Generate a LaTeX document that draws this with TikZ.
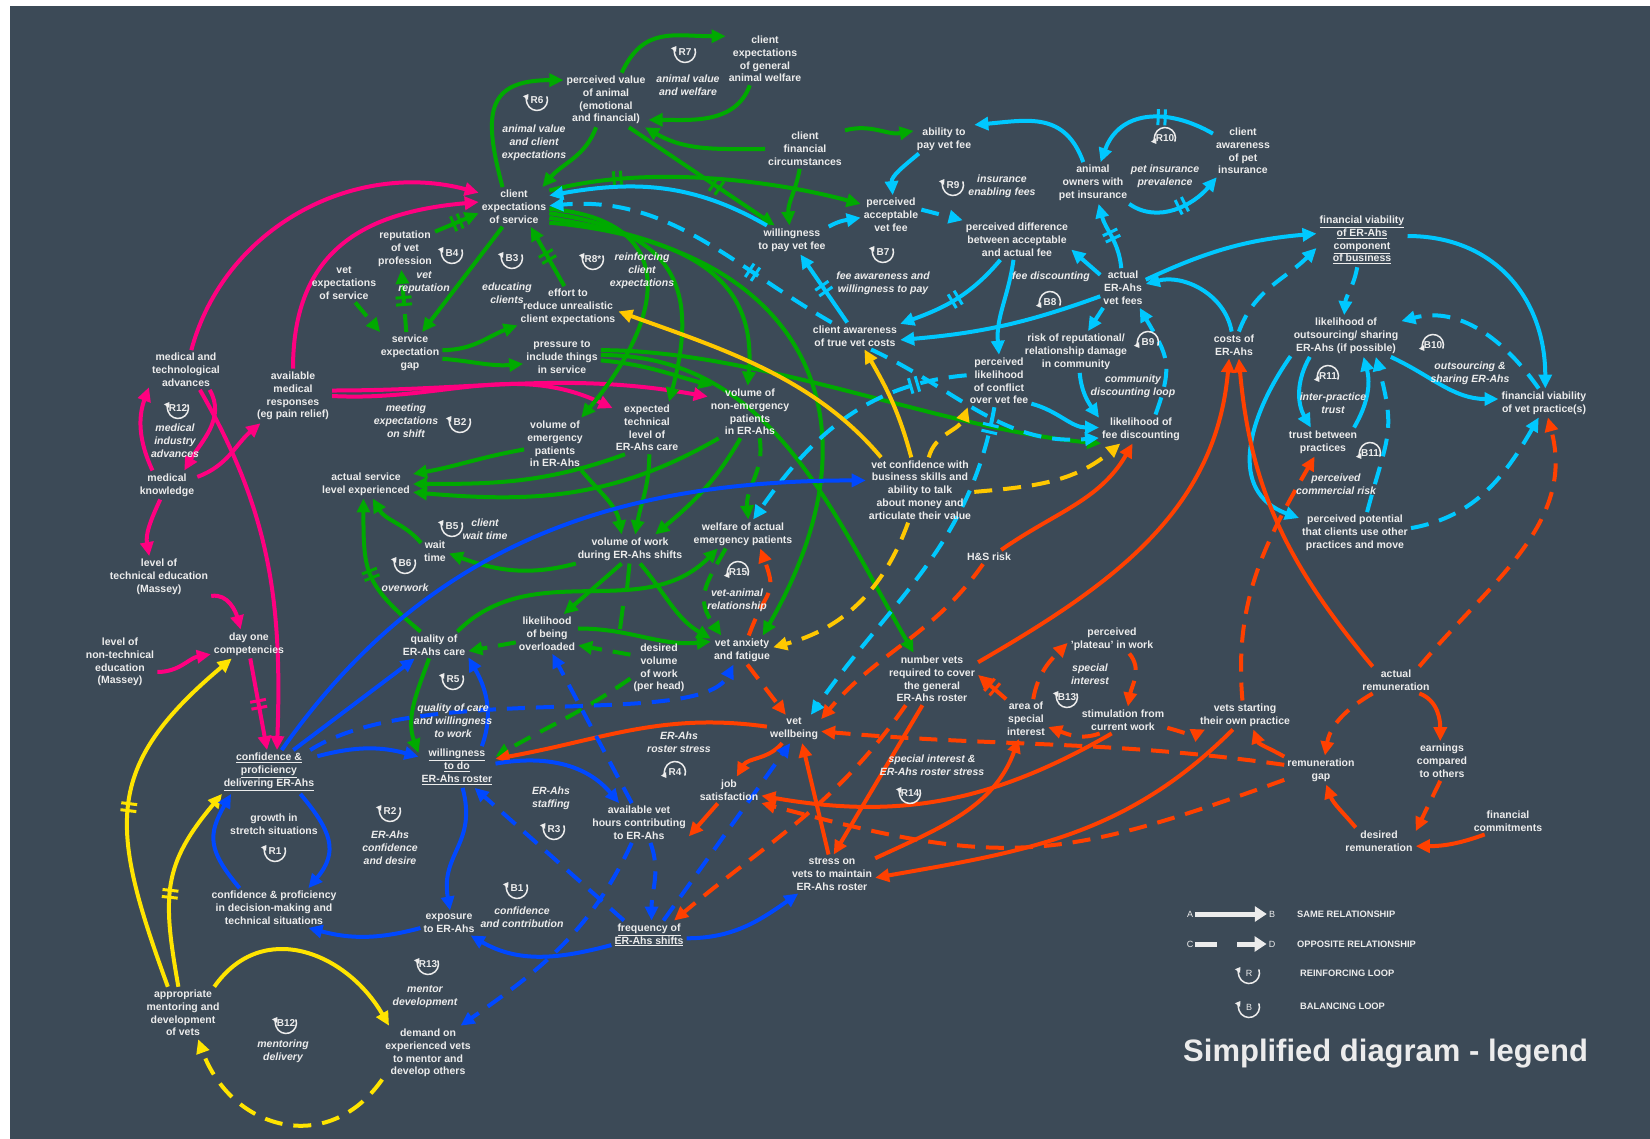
\documentclass[tikz,border=0pt]{standalone}
\usepackage{fontspec}
\setmainfont{Liberation Sans}
\usepackage{tikz}
\usetikzlibrary{arrows.meta,decorations.markings}

\definecolor{bgdark}{RGB}{60,74,87}
\definecolor{ctext}{RGB}{236,236,236}
\definecolor{cgreen}{RGB}{0,170,0}
\definecolor{ccyan}{RGB}{0,200,255}
\definecolor{cmag}{RGB}{255,0,128}
\definecolor{cblue}{RGB}{0,72,255}
\definecolor{cyel}{RGB}{255,228,0}
\definecolor{cgold}{RGB}{255,200,0}
\definecolor{corange}{RGB}{255,64,0}

\newcommand{\varfont}{\bfseries\fontsize{10.5}{12.8}\selectfont}
\newcommand{\lblfont}{\bfseries\itshape\fontsize{10.5}{12.8}\selectfont}
\newcommand{\loopfont}{\bfseries\fontsize{10}{12}\selectfont}
\newcommand{\legfont}{\fontsize{9}{11}\selectfont}
\newcommand{\legbfont}{\bfseries\fontsize{9.3}{11}\selectfont}
\newcommand{\ttlfont}{\bfseries\fontsize{31}{36}\selectfont}

\pgfdeclarelayer{bg}
\pgfdeclarelayer{edges}
\pgfsetlayers{bg,edges,main}

\tikzstyle{var} = [text=ctext, font=\varfont, align=center, inner sep=3pt]
\tikzstyle{lbl} = [text=ctext, font=\lblfont, align=center, inner sep=1pt]
\tikzstyle{loopsym} = [text=ctext, font=\loopfont, inner sep=1pt]
\tikzstyle{legloop} = [text=ctext, font=\legfont, inner sep=1pt]
\tikzstyle{legtxt} = [text=ctext, font=\legfont, inner sep=2pt]
\tikzstyle{legbold} = [text=ctext, font=\legbfont, inner sep=0pt]
\tikzstyle{ttl} = [text=ctext, font=\ttlfont, inner sep=0pt]
\tikzstyle{lnk} = [line width=4pt, ->]
\tikzstyle{opp} = [dash pattern=on 18pt off 11pt]
\tikzstyle{grnln} = [lnk, color=cgreen]
\tikzstyle{cynln} = [lnk, color=ccyan]
\tikzstyle{magln} = [lnk, color=cmag]
\tikzstyle{bluln} = [lnk, color=cblue]
\tikzstyle{yelln} = [lnk, color=cyel]
\tikzstyle{goldln} = [lnk, color=cgold]
\tikzstyle{orgln} = [lnk, color=corange]
\tikzset{
  looparc/.style={draw=ctext, line width=1.5pt, -{Triangle[length=5pt,width=6pt]}},
  legarrow/.style={draw=ctext, line width=5pt, -{Triangle[length=12pt,width=15pt]}},
  delaymark/.style={postaction={decorate,decoration={markings,
    mark=at position #1 with {\draw[solid,line width=3pt,-] (-3.5pt,-8pt) -- (-3.5pt,8pt) (3.5pt,-8pt) -- (3.5pt,8pt);}}}}
}

% loop symbols: arrow head top left / bottom left
\newcommand{\cldup}[4][loopsym]{%
  \node[#1] (#2) at (#3) {#4};
  \draw[looparc] ([shift={(20:10.5pt)}]#2.center) arc[start angle=20, end angle=-215, radius=10.5pt];}
\newcommand{\clddown}[4][loopsym]{%
  \node[#1] (#2) at (#3) {#4};
  \draw[looparc] ([shift={(-20:10.5pt)}]#2.center) arc[start angle=-20, end angle=215, radius=10.5pt];}

\begin{document}
\begin{tikzpicture}[x=1pt,y=1pt,>={Triangle[length=14pt,width=13pt]}]

\useasboundingbox (0,0) rectangle (1650,-1139);
\begin{pgfonlayer}{bg}
  \fill[white] (0,0) rectangle (1650,-1139);
  \fill[bgdark] (10,-6) rectangle (1650,-1139);
\end{pgfonlayer}

% variables
\node[var] (medadv) at (186,-370) {medical and\\technological\\advances};
\node[var] (avail) at (293,-396) {available\\medical\\responses\\(eg pain relief)};
\node[var] (medknow) at (167,-485) {medical\\knowledge};
\node[var] (techedu) at (159,-577) {level of\\technical education\\(Massey)};
\node[var] (nontech) at (120,-662) {level of\\non-technical\\education\\(Massey)};
\node[var] (dayone) at (249,-644) {day one\\competencies};
\node[var] (confdel) at (269,-772) {\underline{confidence \&}\\\underline{proficiency}\\\underline{delivering ER-Ahs}};
\node[var] (growth) at (274,-824) {growth in\\stretch situations};
\node[var] (confdec) at (274,-908) {confidence \& proficiency\\in decision-making and\\technical situations};
\node[var] (mentoring) at (183,-1013) {appropriate\\mentoring and\\development\\of vets};
\node[var] (demand) at (428,-1053) {demand on\\experienced vets\\to mentor and\\develop others};
\node[var] (exposure) at (449,-923) {exposure\\to ER-Ahs};
\node[var] (willing) at (457,-767) {\underline{willingness}\\\underline{to do}\\\underline{ER-Ahs roster}};
\node[var] (freq) at (649,-935) {\underline{frequency of}\\\underline{ER-Ahs shifts}};
\node[var] (hours) at (639,-823) {available vet\\hours contributing\\to ER-Ahs};
\node[var] (jobsat) at (729,-790) {job\\satisfaction};
\node[var] (wellbeing) at (794,-729) {vet\\wellbeing};
\node[var] (stress) at (832,-874) {stress on\\vets to maintain\\ER-Ahs roster};
\node[var] (quality) at (434,-645) {quality of\\ER-Ahs care};
\node[var] (overload) at (547,-634) {likelihood\\of being\\overloaded};
\node[var] (desired) at (659,-668) {desired\\volume\\of work\\(per head)};
\node[var] (anxiety) at (742,-650) {vet anxiety\\and fatigue};
\node[var] (welfare) at (743,-534) {welfare of actual\\emergency patients};
\node[var] (work) at (630,-549) {volume of work\\during ER-Ahs shifts};
\node[var] (waittime) at (435,-551) {wait\\time};
\node[var] (service) at (366,-484) {actual service\\level experienced};
\node[var] (volemerg) at (555,-444) {volume of\\emergency\\patients\\in ER-Ahs};
\node[var] (exptech) at (647,-428) {expected\\technical\\level of\\ER-Ahs care};
\node[var] (volnon) at (750,-412) {volume of\\non-emergency\\patients\\in ER-Ahs};
\node[var] (vetexp) at (344,-283) {vet\\expectations\\of service};
\node[var] (reput) at (405,-249) {reputation\\of vet\\profession};
\node[var] (gap) at (410,-353) {service\\expectation\\gap};
\node[var] (clientexp) at (514,-207) {client\\expectations\\of service};
\node[var] (value) at (606,-100) {perceived value\\of animal\\(emotional\\and financial)};
\node[var] (welfaregen) at (765,-59) {client\\expectations\\of general\\animal welfare};
\node[var] (fincirc) at (805,-149) {client\\financial\\circumstances};
\node[var] (wtp) at (792,-240) {willingness\\to pay vet fee};
\node[var] (effort) at (568,-307) {effort to\\reduce unrealistic\\client expectations};
\node[var] (pressure) at (562,-357) {pressure to\\include things\\in service};
\node[var] (ability) at (944,-139) {ability to\\pay vet fee};
\node[var] (accept) at (891,-215) {perceived\\acceptable\\vet fee};
\node[var] (owners) at (1093,-183) {animal\\owners with\\pet insurance};
\node[var] (awarepet) at (1243,-151) {client\\awareness\\of pet\\insurance};
\node[var] (diff) at (1017,-240) {perceived difference\\between acceptable\\and actual fee};
\node[var] (fees) at (1123,-288) {actual\\ER-Ahs\\vet fees};
\node[var] (awarecost) at (855,-336) {client awareness\\of true vet costs};
\node[var] (risk) at (1076,-352) {risk of reputational/\\relationship damage\\in community};
\node[var] (conflict) at (999,-381) {perceived\\likelihood\\of conflict\\over vet fee};
\node[var] (discount) at (1141,-429) {likelihood of\\fee discounting};
\node[var] (costs) at (1234,-345) {costs of\\ER-Ahs};
\node[var] (vetconf) at (920,-490) {vet confidence with\\business skills and\\ability to talk\\about money and\\articulate their value};
\node[var] (hsrisk) at (989,-557) {H\&S risk};
\node[var] (numvets) at (932,-679) {number vets\\required to cover\\the general\\ER-Ahs roster};
\node[var] (plateau) at (1112,-639) {perceived\\'plateau' in work};
\node[var] (area) at (1026,-719) {area of\\special\\interest};
\node[var] (stim) at (1123,-720) {stimulation from\\current work};
\node[var] (finviab) at (1362,-240) {\underline{financial viability}\\\underline{of ER-Ahs}\\\underline{component}\\\underline{of business}};
\node[var] (outsrc) at (1346,-336) {likelihood of\\outsourcing/ sharing\\ER-Ahs (if possible)};
\node[var] (practice) at (1544,-403) {financial viability\\of vet practice(s)};
\node[var] (trust) at (1323,-442) {trust between\\practices};
\node[var] (potential) at (1355,-533) {perceived potential\\that clients use other\\practices and move};
\node[var] (actrem) at (1396,-680) {actual\\remuneration};
\node[var] (ownprac) at (1245,-715) {vets starting\\their own practice};
\node[var] (remgap) at (1321,-770) {remuneration\\gap};
\node[var] (earnings) at (1442,-761) {earnings\\compared\\to others};
\node[var] (desrem) at (1379,-841) {desired\\remuneration};
\node[var] (fincom) at (1508,-821) {financial\\commitments};

% loops
\cldup{R6}{537,-100}{R6}
\cldup{R7}{685,-52}{R7}
\cldup{B4}{452,-253}{B4}
\cldup{B3}{512,-258}{B3}
\cldup{R8s}{593,-259}{R8*}
\cldup{R9}{953,-185}{R9}
\cldup{B7}{883,-252}{B7}
\cldup{B2}{460,-422}{B2}
\cldup{B5}{452,-526}{B5}
\cldup{B6}{405,-563}{B6}
\cldup{R12}{178,-408}{R12}
\cldup{R5}{453,-679}{R5}
\cldup{R2}{390,-811}{R2}
\cldup{R1}{275,-851}{R1}
\cldup{R3}{554,-829}{R3}
\cldup{B1}{517,-888}{B1}
\cldup{R13}{428,-964}{R13}
\cldup{B12}{286,-1023}{B12}
\cldup{B13}{1067,-697}{B13}
\cldup{R14}{910,-793}{R14}
\clddown{R10}{1165,-138}{R10}
\clddown{B8}{1050,-302}{B8}
\clddown{B9}{1148,-342}{B9}
\clddown{B10}{1433,-345}{B10}
\clddown{R11}{1328,-376}{R11}
\clddown{B11}{1370,-453}{B11}
\clddown{R15}{738,-572}{R15}
\clddown{R4}{675,-772}{R4}

\node[lbl] (R6t) at (534,-143) {animal value\\and client\\expectations};
\node[lbl] (R7t) at (688,-85) {animal value\\and welfare};
\node[lbl] (B4t) at (424,-283) {vet\\reputation};
\node[lbl] (B3t) at (507,-293) {educating\\clients};
\node[lbl] (R8t) at (642,-271) {reinforcing\\client\\expectations};
\node[lbl] (R9t) at (1002,-186) {insurance\\enabling fees};
\node[lbl] (R10t) at (1165,-176) {pet insurance\\prevalence};
\node[lbl] (B7t) at (883,-283) {fee awareness and\\willingness to pay};
\node[lbl] (B8t) at (1051,-277) {fee discounting};
\node[lbl] (B9t) at (1133,-386) {community\\discounting loop};
\node[lbl] (B10t) at (1470,-373) {outsourcing \&\\sharing ER-Ahs};
\node[lbl] (R11t) at (1333,-403) {inter-practice\\trust};
\node[lbl] (B11t) at (1336,-484) {perceived\\commercial risk};
\node[lbl] (R12t) at (175,-441) {medical\\industry\\advances};
\node[lbl] (B2t) at (406,-421) {meeting\\expectations\\on shift};
\node[lbl] (B5t) at (485,-529) {client\\wait time};
\node[lbl] (B6t) at (405,-588) {overwork};
\node[lbl] (R15t) at (737,-600) {vet-animal\\relationship};
\node[lbl] (R5t) at (453,-721) {quality of care\\and willingness\\to work};
\node[lbl] (R4t) at (679,-742) {ER-Ahs\\roster stress};
\node[lbl] (R2t) at (390,-848) {ER-Ahs\\confidence\\and desire};
\node[lbl] (R3t) at (551,-798) {ER-Ahs\\staffing};
\node[lbl] (B1t) at (522,-917) {confidence\\and contribution};
\node[lbl] (R13t) at (425,-997) {mentor\\development};
\node[lbl] (B12t) at (283,-1051) {mentoring\\delivery};
\node[lbl] (B13t) at (1090,-674) {special\\interest};
\node[lbl] (R14t) at (932,-765) {special interest \&\\ER-Ahs roster stress};

\coordinate (wjoin) at (627,-589);
\coordinate (ojoin1) at (623,-606);
\coordinate (ojoin2) at (620,-629);

\begin{pgfonlayer}{edges}
% magenta
\draw[magln] (medadv.75) to[out=75,in=165] (clientexp.158);
\draw[magln] (avail.90) to[out=90,in=185,looseness=1.2] (clientexp.172);
\draw[magln] (medknow.135) to[out=115,in=250] (medadv.205);
\draw[magln] (medadv.-40) to[out=-60,in=60] (medknow.40);
\draw[magln] (medknow.15) to[out=20,in=220] (avail.220);
\draw[magln] (medadv.-55) to[out=-60,in=88] (confdel.70);
\draw[magln] (medknow.-115) to[out=245,in=100] (techedu.115);
\draw[magln] (techedu.-20) to[out=10,in=105] (dayone.120);
\draw[magln] (nontech.-15) to[out=0,in=190] (dayone.195);
\draw[magln,delaymark=0.5] (dayone.-85) -- (confdel.95);
\draw[magln] (avail.8) to[out=0,in=170] (volnon.160);
\draw[magln] (avail.0) to[out=-3,in=155] (exptech.150);

% green
\draw[grnln] (clientexp.120) to[out=105,in=180,looseness=1.6] (value.155);
\draw[grnln] (value.-110) to[out=250,in=50] (clientexp.35);
\draw[grnln] (value.60) to[out=65,in=180,looseness=1.2] (welfaregen.150);
\draw[grnln] (welfaregen.-120) to[out=250,in=0] (value.-25);
\draw[grnln] (fincirc.180) to[out=180,in=-30] (value.-35);
\draw[grnln,delaymark=0.6] (value.-50) -- (wtp.140);
\draw[grnln] (fincirc.-105) to[out=260,in=95] (wtp.100);
\draw[grnln] (fincirc.25) to[out=15,in=190] (ability.165);
\draw[grnln,delaymark=0.22] (clientexp.25) to[out=15,in=165,looseness=0.8] (accept.160);
\draw[grnln] (clientexp.-120) -- (gap.60);
\draw[grnln,opp] (vetexp.-60) -- (gap.145);
\draw[grnln,opp,delaymark=0.5] (gap.100) -- (reput.-100);
\draw[grnln,delaymark=0.5] (reput.30) -- (clientexp.190);
\draw[grnln] (gap.5) to[out=0,in=200] (effort.200);
\draw[grnln] (gap.-10) to[out=-5,in=185] (pressure.190);
\draw[grnln,delaymark=0.5] (effort.100) -- (clientexp.-50);
\draw[grnln] (clientexp.-3) to[out=-5,in=50,looseness=1.6] (volemerg.45);
\draw[grnln] (clientexp.-10) to[out=-8,in=75,looseness=1.4] (exptech.50);
\draw[grnln] (clientexp.-17) to[out=-10,in=85,looseness=1.2] (volnon.95);
\draw[grnln] (clientexp.-24) to[out=-5,in=60,looseness=1.4] (anxiety.35);
\draw[grnln] (volemerg.190) to[out=190,in=10] (service.12);
\draw[grnln] (exptech.-130) to[out=200,in=0] (service.0);
\draw[grnln] (volnon.-140) to[out=210,in=-5] (service.-10);
\draw[grnln] (volemerg.-45) to[out=-50,in=100] (work.120);
\draw[grnln] (exptech.-85) to[out=-90,in=80] (work.70);
\draw[grnln] (volnon.-110) to[out=-120,in=40] (work.30);
\draw[grnln,opp] (volnon.-70) to[out=-80,in=95] (welfare.70);
\draw[grnln] (work.-165) to[out=195,in=-20] (waittime.-10);
\draw[grnln] (waittime.150) to[out=130,in=-60] (service.-65);
\draw[grnln,delaymark=0.5] (quality.135) to[out=140,in=-90,looseness=1.3] (service.-100);
\draw[grnln] (work.-120) -- (overload.50);
\draw[grnln] (work.-55) to[out=-50,in=150] (anxiety.160);
\draw[grnln] (quality.30) to[out=45,in=225] (welfare.210);
\draw[grnln,-] (work.-92) -- (wjoin);
\draw[grnln,-] (ojoin1) -- (ojoin2);
\draw[grnln] (overload.10) to[out=0,in=185] (anxiety.165);
\draw[grnln,opp] (overload.-165) -- (quality.-10);
\draw[grnln,opp] (desired.155) -- (overload.-20);
\draw[grnln] (quality.-110) to[out=250,in=110] (willing.160);
\draw[grnln,opp] (desired.-160) to[out=215,in=30] (willing.15);
\draw[grnln] (pressure.10) to[out=0,in=175,looseness=0.8] (discount.200);
\draw[grnln] (pressure.3) to[out=0,in=120] (numvets.125);
\draw[grnln] (pressure.-5) to[out=-5,in=165] (volnon.145);
\draw[grnln,opp] (welfare.-140) to[out=240,in=125,looseness=1.3] (anxiety.145);

% cyan
\draw[cynln] (wtp.150) to[out=150,in=10] (clientexp.18);
\draw[cynln,opp,delaymark=0.3] (awarecost.150) to[out=150,in=5] (clientexp.2);
\draw[cynln] (wtp.20) to[out=30,in=190] (accept.185);
\draw[cynln] (ability.-150) to[out=220,in=95] (accept.85);
\draw[cynln,opp] (accept.10) -- (diff.160);
\draw[cynln] (owners.115) to[out=110,in=5,looseness=1.2] (ability.25);
\draw[cynln,delaymark=0.4] (awarepet.150) to[out=150,in=70,looseness=1.2] (owners.70);
\draw[cynln,delaymark=0.55] (owners.-30) to[out=-35,in=230] (awarepet.225);
\draw[cynln,delaymark=0.5] (fees.95) to[out=95,in=-75] (owners.-75);
\draw[cynln] (fees.150) -- (diff.-10);
\draw[cynln,delaymark=0.5] (diff.-130) to[out=230,in=20] (awarecost.15);
\draw[cynln] (diff.-100) to[out=262,in=95] (conflict.90);
\draw[cynln] (fees.-160) to[out=200,in=5] (awarecost.-5);
\draw[cynln] (fees.-135) -- (risk.60);
\draw[cynln,delaymark=0.5] (awarecost.120) -- (wtp.-60);
\draw[cynln,opp] (discount.45) to[out=70,in=-60,looseness=1.3] (fees.-50);
\draw[cynln] (risk.-80) to[out=-85,in=125] (discount.165);
\draw[cynln] (conflict.-35) to[out=-15,in=180] (discount.178);
\draw[cynln,opp] (awarecost.-40) to[out=-25,in=185] (discount.192);
\draw[cynln,opp,delaymark=0.06] (conflict.-100) to[out=-100,in=55] (wellbeing.40);
\draw[cynln,opp,delaymark=0.2] (conflict.170) to[out=185,in=55] (welfare.55);
\draw[cynln] (costs.100) to[out=100,in=15] (fees.10);
\draw[cynln,opp] (costs.70) to[out=70,in=225] (finviab.190);
\draw[cynln] (fees.20) to[out=25,in=185] (finviab.172);
\draw[cynln,opp] (finviab.-100) to[out=-100,in=85] (outsrc.95);
\draw[cynln] (finviab.5) to[out=0,in=90,looseness=1.1] (practice.85);
\draw[cynln] (outsrc.-25) to[out=-25,in=180] (practice.175);
\draw[cynln,opp] (practice.110) to[out=125,in=15] (outsrc.15);
\draw[cynln] (outsrc.-150) to[out=240,in=120] (trust.130);
\draw[cynln] (trust.25) to[out=60,in=-75] (outsrc.-50);
\draw[cynln] (outsrc.-160) to[out=235,in=160,looseness=1.2] (potential.165);
\draw[cynln,opp] (potential.60) to[out=75,in=-75,looseness=1.3] (outsrc.-35);
\draw[cynln,opp] (potential.5) to[out=10,in=240] (practice.-110);

% orange
\draw[orgln] (numvets.20) to[out=30,in=-95] (costs.-110);
\draw[orgln] (actrem.150) to[out=130,in=-85] (costs.-70);
\draw[orgln] (hsrisk.30) to[out=35,in=-120] (discount.-120);
\draw[orgln,opp] (hsrisk.-130) to[out=235,in=50] (wellbeing.20);
\draw[orgln,opp] (anxiety.-70) -- (wellbeing.120);
\draw[orgln,opp] (anxiety.65) to[out=70,in=-70,looseness=1.5] (welfare.-40);
\draw[orgln] (wellbeing.175) to[out=172,in=10] (willing.12);
\draw[orgln] (wellbeing.-130) to[out=230,in=60] (jobsat.60);
\draw[orgln] (jobsat.-130) -- (hours.-15);
\draw[orgln] (stim.-130) to[out=210,in=-10] (jobsat.-10);
\draw[orgln,opp] (stim.-150) to[out=200,in=-20] (area.-20);
\draw[orgln,delaymark=0.5] (area.135) -- (numvets.5);
\draw[orgln,opp] (area.70) to[out=80,in=225] (plateau.185);
\draw[orgln,opp] (plateau.-40) to[out=-50,in=80] (stim.70);
\draw[orgln,opp] (stim.-10) to[out=-15,in=205] (ownprac.200);
\draw[orgln,opp] (remgap.172) to[out=172,in=-5] (wellbeing.-5);
\draw[orgln,opp] (remgap.-165) to[out=200,in=-15,looseness=1.2] (jobsat.-22);
\draw[orgln] (numvets.-110) -- (stress.85);
\draw[orgln,opp] (numvets.-135) to[out=235,in=40] (freq.30);
\draw[orgln] (stress.100) -- (wellbeing.-60);
\draw[orgln] (stress.20) to[out=25,in=-110] (area.-110);
\draw[orgln] (ownprac.-130) to[out=225,in=10] (stress.-5);
\draw[orgln] (remgap.160) to[out=150,in=-70] (ownprac.-60);
\draw[orgln,opp] (actrem.-150) to[out=210,in=80] (remgap.75);
\draw[orgln] (actrem.-30) to[out=-20,in=90] (earnings.95);
\draw[orgln,opp] (earnings.-95) -- (desrem.15);
\draw[orgln] (fincom.-150) to[out=200,in=0] (desrem.-8);
\draw[orgln] (desrem.150) to[out=130,in=-70] (remgap.-70);
\draw[orgln,opp] (actrem.30) to[out=50,in=-75] (practice.-75);
\draw[orgln,opp] (ownprac.100) to[out=95,in=240] (trust.-120);

% yellow
\draw[yelln,delaymark=0.5] (mentoring.120) to[out=110,in=220,looseness=1.3] (dayone.220);
\draw[yelln,delaymark=0.45] (mentoring.100) to[out=100,in=230,looseness=1.2] (confdel.205);
\draw[yelln] (mentoring.40) to[out=55,in=120,looseness=1.2] (demand.145);
\draw[yelln,opp] (demand.-150) to[out=235,in=-70,looseness=1.3] (mentoring.-60);
\draw[goldln] (vetconf.140) to[out=130,in=-20,looseness=0.9] (effort.-5);
\draw[goldln] (vetconf.105) to[out=105,in=-60] (awarecost.-55);
\draw[goldln,opp] (vetconf.75) to[out=75,in=-110] (conflict.-140);
\draw[goldln,opp] (vetconf.-2) to[out=5,in=220] (discount.215);
\draw[goldln,opp] (vetconf.-110) to[out=250,in=15] (anxiety.5);

% blue
\draw[bluln] (confdel.-35) to[out=-50,in=50,looseness=1.3] (confdec.30);
\draw[bluln] (confdec.150) to[out=130,in=240,looseness=1.3] (confdel.210);
\draw[bluln] (confdel.18) to[out=15,in=165] (willing.165);
\draw[bluln] (confdel.42) -- (quality.-145);
\draw[bluln] (confdel.60) to[out=55,in=180] (vetconf.170);
\draw[bluln,opp] (confdel.28) .. controls (420,-680) and (700,-730) .. (anxiety.-120);
\draw[bluln] (willing.40) to[out=70,in=-60] (quality.-20);
\draw[bluln] (willing.5) to[out=10,in=130] (hours.135);
\draw[bluln] (willing.-75) to[out=-75,in=100,looseness=1.2] (exposure.85);
\draw[bluln,opp] (freq.150) -- (willing.-50);
\draw[bluln] (freq.-165) to[out=195,in=-30] (exposure.-30);
\draw[bluln] (exposure.190) to[out=195,in=-15] (confdec.-30);
\draw[bluln,opp] (hours.-60) to[out=-70,in=90] (freq.80);
\draw[bluln,opp] (hours.-110) to[out=245,in=35] (demand.40);
\draw[bluln] (freq.-5) to[out=0,in=215] (stress.-150);
\draw[bluln,opp] (freq.45) -- (wellbeing.-105);
\draw[bluln,opp] (hours.110) -- (overload.-75);
\end{pgfonlayer}

% legend
\node[legtxt] (legA) at (1190,-914) {A};
\node[legtxt] (legB) at (1272,-914) {B};
\draw[legarrow] (legA) -- (legB);
\node[legtxt] (legC) at (1190,-944) {C};
\node[legtxt] (legD) at (1272,-944) {D};
\draw[legarrow,dash pattern=on 22pt off 20pt] (legC) -- (legD);
\node[legbold,anchor=west] (legsame) at (1297,-914) {SAME RELATIONSHIP};
\node[legbold,anchor=west] (legopp) at (1297,-944) {OPPOSITE RELATIONSHIP};
\cldup[legloop]{legR}{1249,-973}{R}
\cldup[legloop]{legBl}{1249,-1007}{B}
\node[legbold,anchor=west] (legreinf) at (1300,-973) {REINFORCING LOOP};
\node[legbold,anchor=west] (legbal) at (1300,-1006) {BALANCING LOOP};
\node[ttl,anchor=west] (title) at (1183,-1054) {Simplified diagram - legend};

\end{tikzpicture}
\end{document}
